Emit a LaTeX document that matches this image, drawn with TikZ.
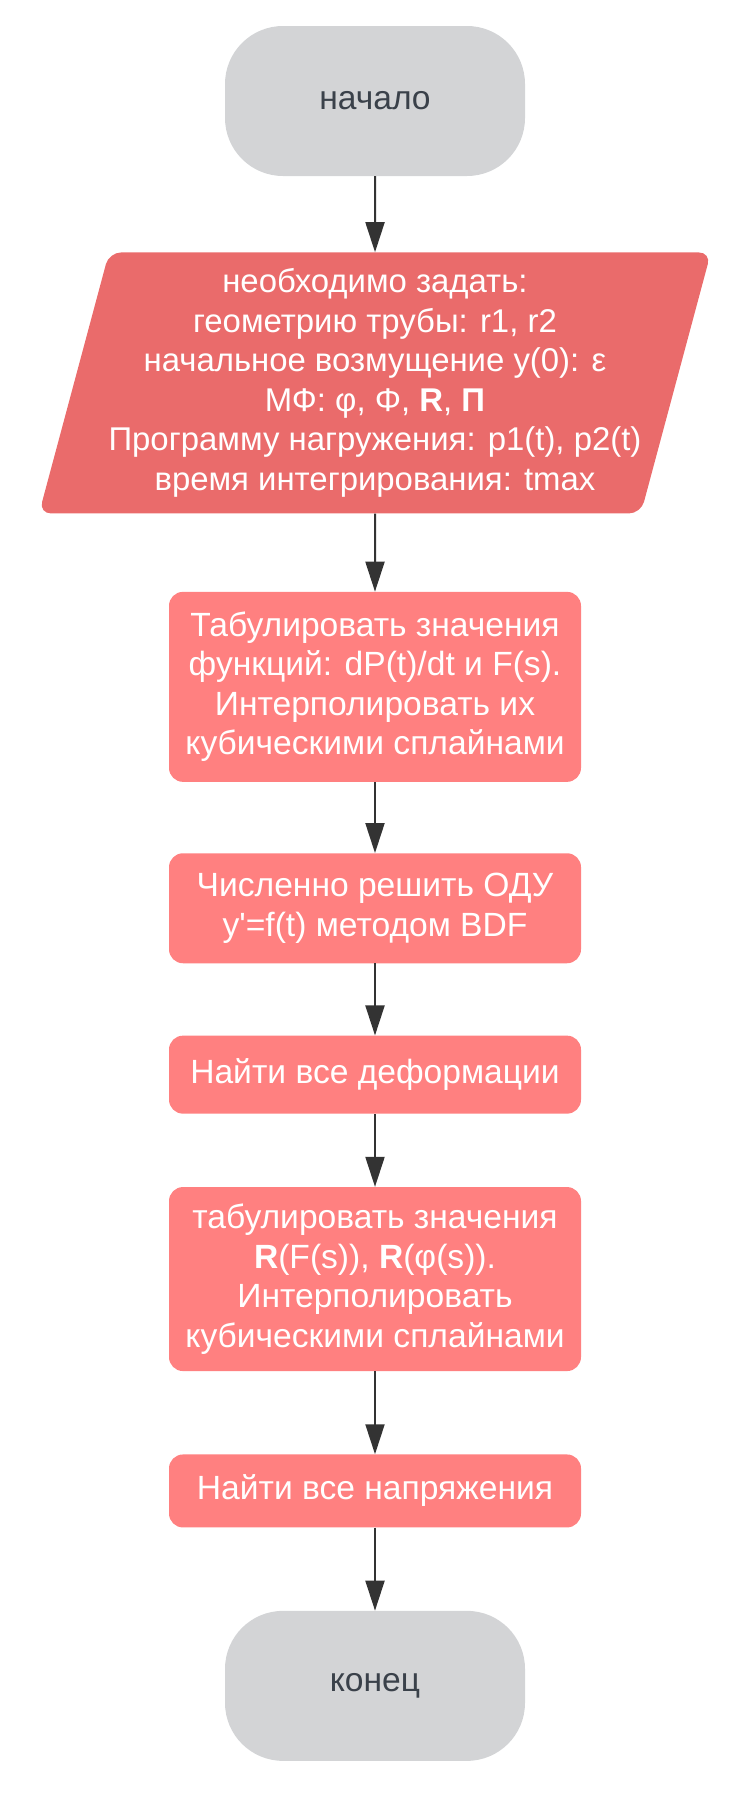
\documentclass[tikz,border=0pt]{standalone}
\usepackage{fontspec}
\setmainfont{Liberation Sans}[Ligatures=TeXOff]
\usetikzlibrary{positioning,shapes.geometric,arrows.meta}
\definecolor{termgray}{HTML}{D3D4D6}
\definecolor{termtext}{HTML}{3A414A}
\definecolor{datared}{HTML}{EA6B6B}
\definecolor{procred}{HTML}{FF8080}
\definecolor{arrowgray}{HTML}{333333}
\begin{document}
\begin{tikzpicture}[x=1pt, y=1pt,
    term/.style = {fill=termgray, text=termtext, rounded corners=58pt, minimum width=300pt, minimum height=150pt},
    data/.style = {trapezium, trapezium left angle=73.5, trapezium right angle=106.5, trapezium stretches=true, fill=datared, text=white, rounded corners=12pt, minimum width=661pt, minimum height=261pt, inner xsep=-0.5pt, inner ysep=4pt, align=center, font=\fontsize{32.9}{39.5}\selectfont},
    proc/.style = {fill=procred, text=white, rounded corners=14pt, minimum width=412pt, inner sep=4pt, align=center},
    line/.style = {draw=arrowgray, line width=2pt, -{Triangle[length=30pt, width=19pt]}},
    font=\fontsize{33.6}{39.5}\selectfont]
    \useasboundingbox (0,0) rectangle (750,-1796);
    \node[term] (1) at (375,-101) {начало};
    \node[data] (2) [below=76pt of 1] {необходимо задать:\\
        геометрию трубы: r1, r2\\
        начальное возмущение y(0): ε\\
        МФ: φ, Φ, \textbf{R}, \textbf{П}\\
        Программу нагружения: p1(t), p2(t)\\
        время интегрирования: tmax};
    \node[proc, minimum height=190pt] (3) [below=78pt of 2] {Табулировать значения\\
        функций: dP(t)/dt и F(s).\\
        Интерполировать их\\
        кубическими сплайнами};
    \node[proc, minimum height=110pt] (4) [below=71pt of 3] {Численно решить ОДУ\\
        y'=f(t) методом BDF};
    \node[proc, minimum height=78pt] (5) [below=72pt of 4] {Найти все деформации};
    \node[proc, minimum height=184pt] (6) [below=73pt of 5] {табулировать значения\\
        \textbf{R}(F(s)), \textbf{R}(φ(s)).\\
        Интерполировать\\
        кубическими сплайнами};
    \node[proc, minimum height=73pt] (7) [below=83pt of 6] {Найти все напряжения};
    \node[term] (8) [below=83pt of 7] {конец};
    \draw[line] (1) -- (2);
    \draw[line] (2) -- (3);
    \draw[line] (3) -- (4);
    \draw[line] (4) -- (5);
    \draw[line] (5) -- (6);
    \draw[line] (6) -- (7);
    \draw[line] (7) -- (8);
\end{tikzpicture}
\end{document}
